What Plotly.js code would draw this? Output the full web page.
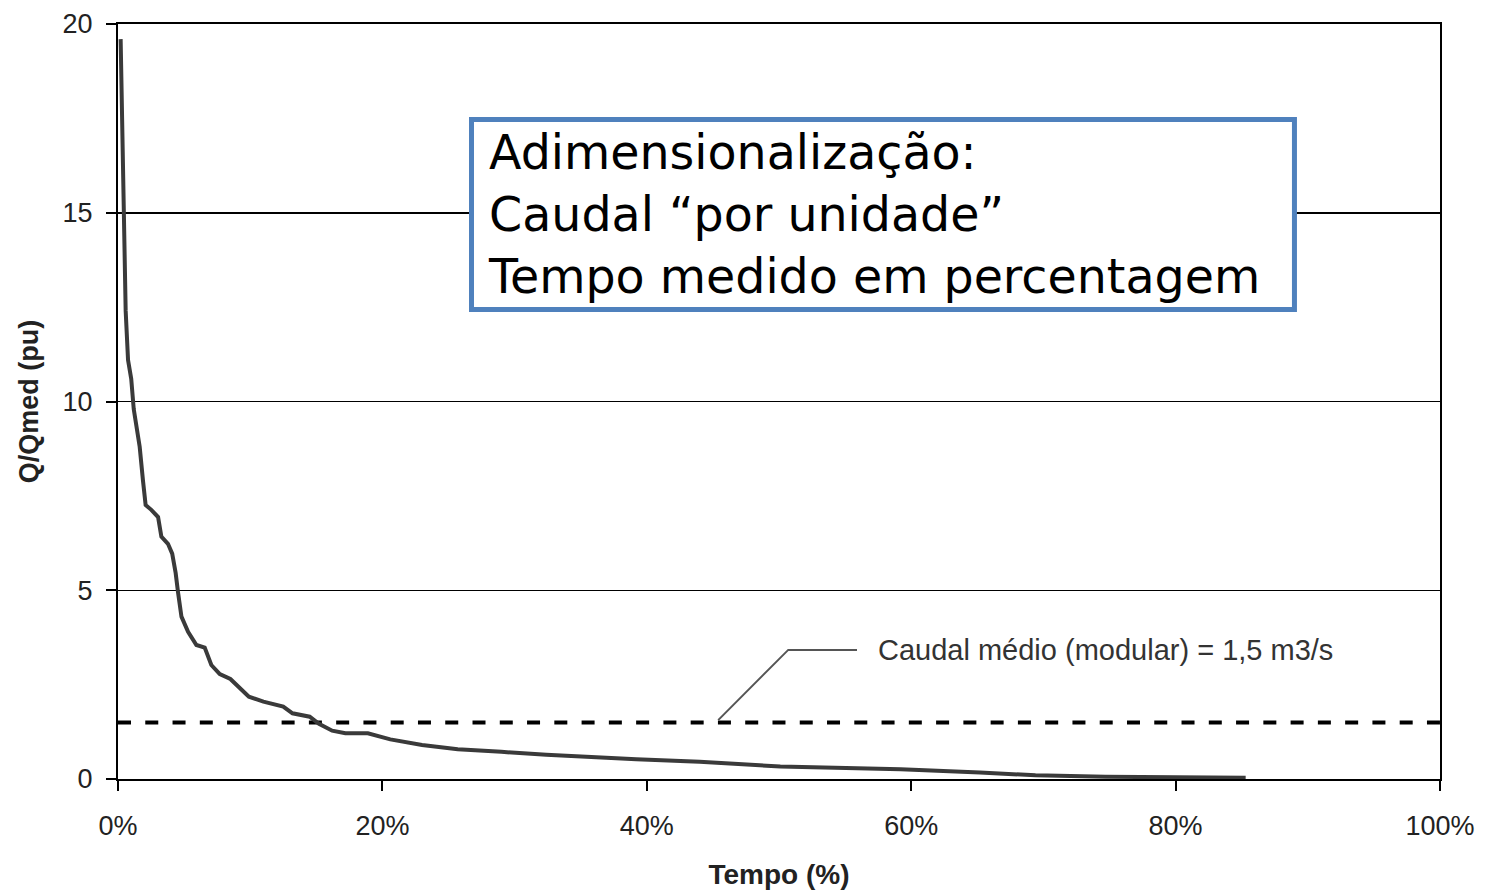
<!DOCTYPE html>
<html>
<head>
<meta charset="utf-8">
<script src="https://cdn.plot.ly/plotly-3.0.1.min.js"></script>
<style>html,body{margin:0;padding:0;background:#fff;}#chart{width:1485px;height:893px;}</style>
</head>
<body>
<div id="chart"></div>
<script>
// Duration curve: time (%) vs Q/Qmed (pu)
const tempoPct = [0.2, 0.3, 0.45, 0.58, 0.76, 1.0, 1.19, 1.39, 1.64, 1.89, 2.09, 2.52, 3.03, 3.28, 3.78, 4.1, 4.36, 4.54, 4.8, 5.3, 5.93, 6.56, 7.06, 7.7, 8.5, 9.9, 11.0, 12.5, 13.2, 14.5, 15.2, 16.2, 17.2, 18.9, 20.6, 23.0, 25.7, 29.0, 32.4, 39.2, 44.0, 50.1, 59.2, 65.2, 69.4, 74.7, 85.3];
const qPu = [19.6, 17.8, 15.0, 12.4, 11.1, 10.6, 9.8, 9.3, 8.8, 7.9, 7.26, 7.13, 6.94, 6.42, 6.23, 5.97, 5.46, 4.95, 4.3, 3.9, 3.55, 3.48, 3.02, 2.78, 2.65, 2.18, 2.05, 1.92, 1.74, 1.65, 1.46, 1.28, 1.21, 1.21, 1.05, 0.9, 0.79, 0.72, 0.64, 0.52, 0.46, 0.33, 0.26, 0.17, 0.1, 0.06, 0.03];
const meanX = [0, 100];
const meanY = [1.5, 1.5];
const xTicks = [0, 20, 40, 60, 80, 100];
const xTickText = ['0%', '20%', '40%', '60%', '80%', '100%'];
const yTicks = [0, 5, 10, 15, 20];
const meanLabel = 'Caudal médio (modular) = 1,5 m3/s';
const boxText = 'Adimensionalização:<br>Caudal “por unidade”<br>Tempo medido em percentagem';
// leader line for mean label (data coords)
const leaderX = [45.4, 50.7, 55.9];
const leaderY = [1.56, 3.42, 3.42];
// text box frame (data coords)
const boxX = [26.74, 88.99];
const boxY = [12.44, 17.47];

const traces = [
  {x: meanX, y: meanY, mode: 'lines', line: {color: '#000', width: 4, dash: '13px,14.27px'}, hoverinfo: 'skip'},
  {x: tempoPct, y: qPu, mode: 'lines', line: {color: '#3a3a3a', width: 4}, hoverinfo: 'skip'}
];

const layout = {
  width: 1485, height: 893,
  margin: {l: 118, r: 45, t: 24, b: 114},
  paper_bgcolor: '#fff', plot_bgcolor: '#fff',
  showlegend: false,
  font: {family: 'Liberation Sans, Arial, sans-serif', color: '#222'},
  xaxis: {
    range: [0, 100], tickvals: xTicks, ticktext: xTickText,
    showgrid: false, zeroline: false,
    showline: true, linecolor: '#000', linewidth: 2, mirror: true,
    ticks: 'outside', ticklen: 10, tickwidth: 2, tickcolor: '#000',
    tickfont: {size: 27, color: '#222'}, ticklabelstandoff: 12,
    title: {text: '<b>Tempo (%)</b>', font: {size: 28, color: '#222'}, standoff: 24}
  },
  yaxis: {
    range: [0, 20], tickvals: yTicks,
    showgrid: true, gridcolor: '#000', gridwidth: 1.5, zeroline: false,
    showline: true, linecolor: '#000', linewidth: 2, mirror: true,
    ticks: 'outside', ticklen: 10, tickwidth: 2, tickcolor: '#000',
    tickfont: {size: 27, color: '#222'}, ticklabelstandoff: 8,
    title: {text: '<b>Q/Qmed (pu)</b>', font: {size: 27, color: '#222'}, standoff: 16}
  },
  shapes: [
    {type: 'path', xref: 'x', yref: 'y',
     path: 'M ' + leaderX[0] + ',' + leaderY[0] + ' L ' + leaderX[1] + ',' + leaderY[1] + ' L ' + leaderX[2] + ',' + leaderY[2],
     line: {color: '#555', width: 2}},
    {type: 'rect', xref: 'x', yref: 'y', layer: 'above',
     x0: boxX[0], x1: boxX[1], y0: boxY[0], y1: boxY[1],
     fillcolor: '#fff', line: {color: '#4F81BD', width: 5}}
  ],
  annotations: [
    {x: 57.3, y: 3.42, xref: 'x', yref: 'y', xanchor: 'left', yanchor: 'middle',
     text: meanLabel, showarrow: false,
     font: {family: 'Liberation Sans Narrow, Liberation Sans, Arial, sans-serif', size: 29, color: '#333'}},
    {x: 27.8, y: 14.95, xref: 'x', yref: 'y', xanchor: 'left', yanchor: 'middle',
     text: boxText, showarrow: false, align: 'left',
     font: {family: 'DejaVu Sans, Verdana, sans-serif', size: 47.5, color: '#000'}}
  ]
};

Plotly.newPlot('chart', traces, layout, {displayModeBar: false, staticPlot: true});
</script>
</body>
</html>
